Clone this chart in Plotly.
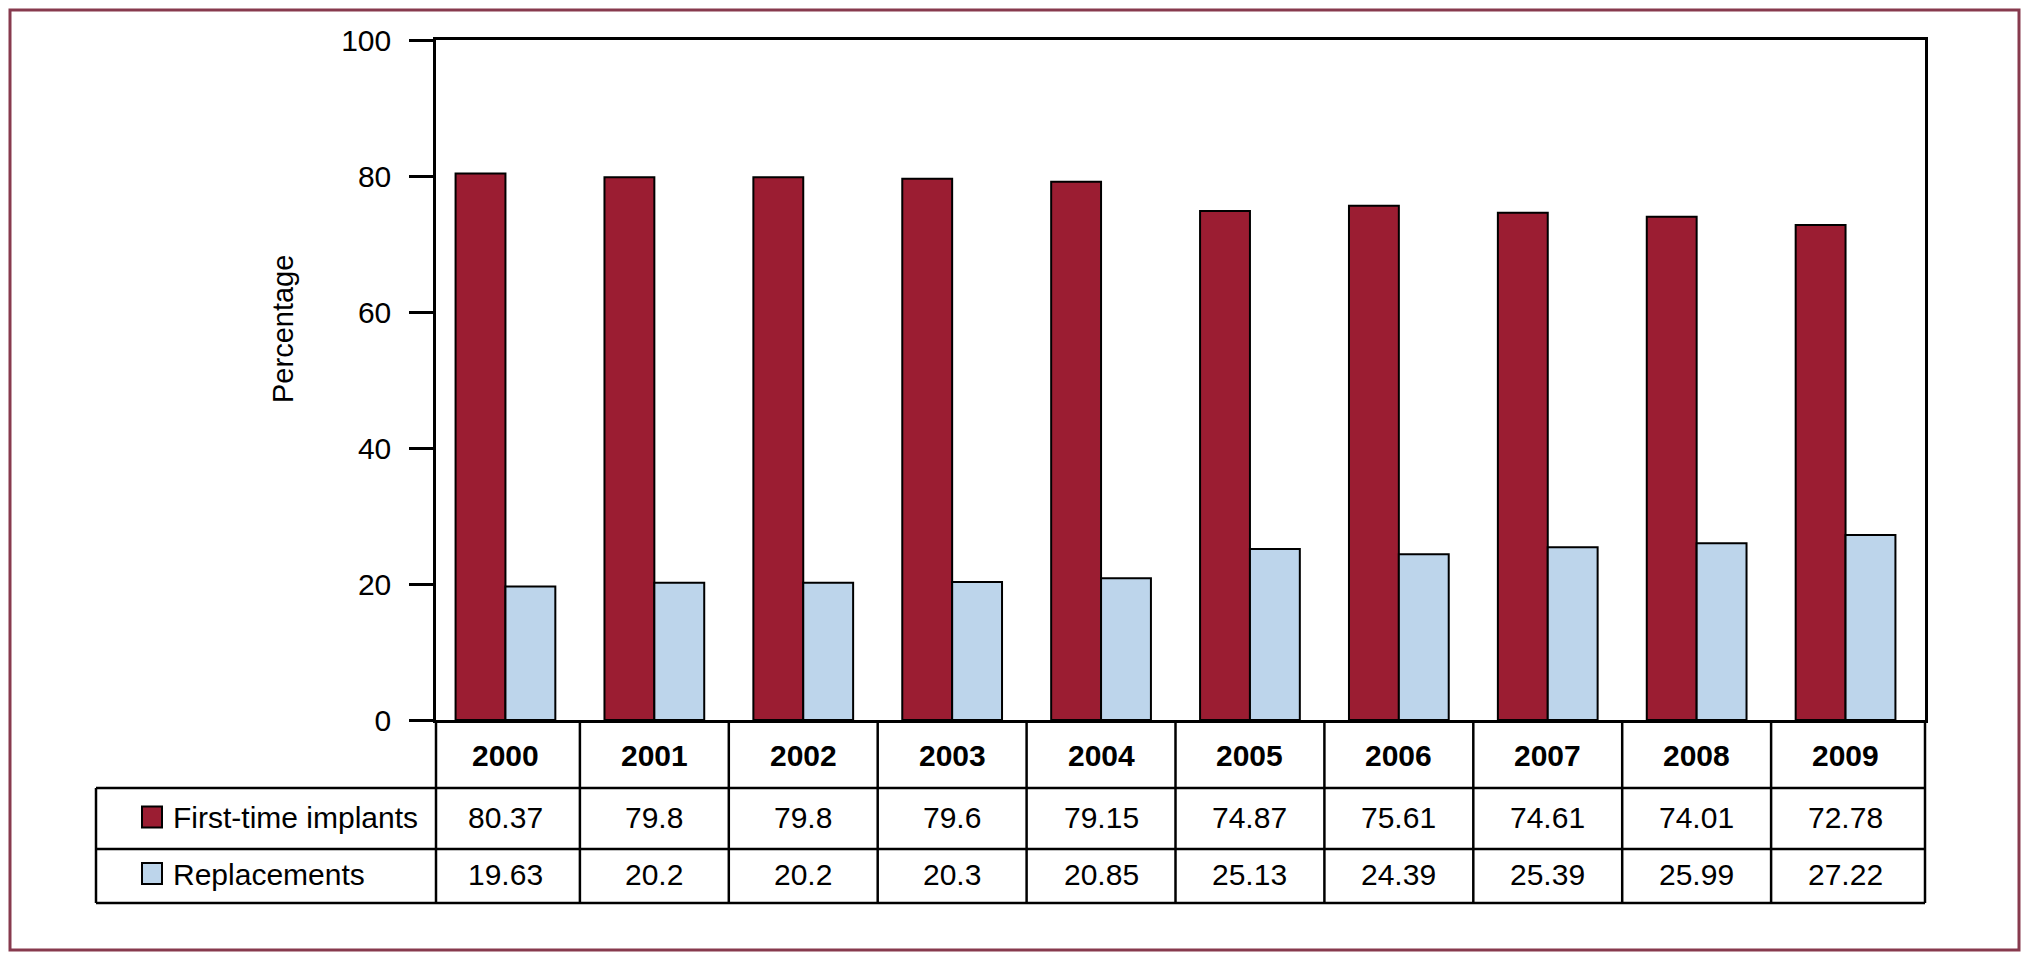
import plotly.graph_objects as go

years = ["2000", "2001", "2002", "2003", "2004", "2005", "2006", "2007", "2008", "2009"]
first_time = [80.37, 79.8, 79.8, 79.6, 79.15, 74.87, 75.61, 74.61, 74.01, 72.78]
replacements = [19.63, 20.2, 20.2, 20.3, 20.85, 25.13, 24.39, 25.39, 25.99, 27.22]
series_names = ["First-time implants", "Replacements"]
y_ticks = [0, 20, 40, 60, 80, 100]

RED = "#9B1D32"
BLUE = "#BDD5EB"
FRAME = "#873A4E"
FONT = "Liberation Sans, Arial, sans-serif"
FS = 30

OFF = 8  # page body margin
W, H = 2033 - 2 * OFF, 962 - 2 * OFF
L, R, T, B = 436, 1925, 40, 720  # plot area in page pixels
n = len(years)
shift = 5 / ((R - L) / n)  # category grid starts slightly left of the axis line


def px(x):
    return (x - L) / (R - L)


def py(y):
    return (B - y) / (B - T)


fig = go.Figure()
fig.add_trace(go.Bar(x=years, y=first_time, name=series_names[0],
                     marker=dict(color=RED, line=dict(color="black", width=2))))
fig.add_trace(go.Bar(x=years, y=replacements, name=series_names[1],
                     marker=dict(color=BLUE, line=dict(color="black", width=2))))

shapes = []
annotations = []

table_left = 96
hdr_bot, row1_bot, row2_bot = 788, 849, 903
row_centers = [(hdr_bot + row1_bot) / 2 - 1, (row1_bot + row2_bot) / 2 - 2]
LW = 2.5

# column lines: axis line extension, interior category boundaries, right border extension
for xp in (0, 1):
    shapes.append(dict(type="line", xref="paper", yref="paper", x0=xp, x1=xp,
                       y0=0, y1=py(row2_bot), line=dict(color="black", width=LW)))
for i in range(1, n):
    shapes.append(dict(type="line", xref="x", yref="paper", x0=i - 0.5, x1=i - 0.5,
                       y0=0, y1=py(row2_bot), line=dict(color="black", width=LW)))
for yy in (hdr_bot, row1_bot, row2_bot):
    shapes.append(dict(type="line", xref="paper", yref="paper", x0=px(table_left), x1=1,
                       y0=py(yy), y1=py(yy), line=dict(color="black", width=LW)))
shapes.append(dict(type="line", xref="paper", yref="paper", x0=px(table_left), x1=px(table_left),
                   y0=py(hdr_bot), y1=py(row2_bot), line=dict(color="black", width=LW)))

for i, yr in enumerate(years):
    annotations.append(dict(x=i, xref="x", y=py((B + hdr_bot) / 2 + 1), yref="paper",
                            text="<b>%s</b>" % yr, showarrow=False,
                            font=dict(family=FONT, size=FS, color="black"),
                            xanchor="center", yanchor="middle"))
for vals, yc in ((first_time, row_centers[0]), (replacements, row_centers[1])):
    for i, v in enumerate(vals):
        annotations.append(dict(x=i, xref="x", y=py(yc), yref="paper",
                                text=("%g" % v), showarrow=False,
                                font=dict(family=FONT, size=FS, color="black"),
                                xanchor="center", yanchor="middle"))
for name, col, yc in zip(series_names, (RED, BLUE), row_centers):
    annotations.append(dict(x=px(171), xref="paper", y=py(yc), yref="paper",
                            text=name, showarrow=False,
                            font=dict(family=FONT, size=FS, color="black"),
                            xanchor="left", yanchor="middle"))
    shapes.append(dict(type="rect", xref="paper", yref="paper",
                       x0=px(142), x1=px(162), y0=py(yc - 11), y1=py(yc + 10),
                       fillcolor=col, line=dict(color="black", width=2)))

annotations.append(dict(x=px(283), xref="paper", y=py(329), yref="paper",
                        text="Percentage", textangle=-90, showarrow=False,
                        font=dict(family=FONT, size=29, color="black"),
                        xanchor="center", yanchor="middle"))

shapes.append(dict(type="rect", xref="paper", yref="paper",
                   x0=px(10), x1=px(2019), y0=py(950), y1=py(10),
                   line=dict(color=FRAME, width=3), fillcolor="rgba(0,0,0,0)", layer="below"))

fig.update_layout(
    width=W, height=H,
    margin=dict(l=L - OFF, r=W - (R - OFF), t=T - OFF, b=H - (B - OFF)),
    paper_bgcolor="white", plot_bgcolor="white",
    barmode="group", bargap=0.33, bargroupgap=0,
    showlegend=False,
    font=dict(family=FONT, size=FS, color="black"),
    shapes=shapes, annotations=annotations,
    xaxis=dict(type="category", range=[-0.5 + shift, n - 0.5 + shift], showticklabels=False,
               ticks="", showline=True, linecolor="black", linewidth=LW, mirror=True,
               showgrid=False, zeroline=False, fixedrange=True),
    yaxis=dict(range=[0, 100], tickvals=y_ticks, ticks="outside", ticklen=24,
               tickwidth=LW, tickcolor="black", ticklabelstandoff=12,
               showline=True, linecolor="black", linewidth=LW, mirror=True,
               showgrid=False, zeroline=False,
               tickfont=dict(family=FONT, size=FS, color="black"), fixedrange=True),
)

fig.write_html("out.html")
